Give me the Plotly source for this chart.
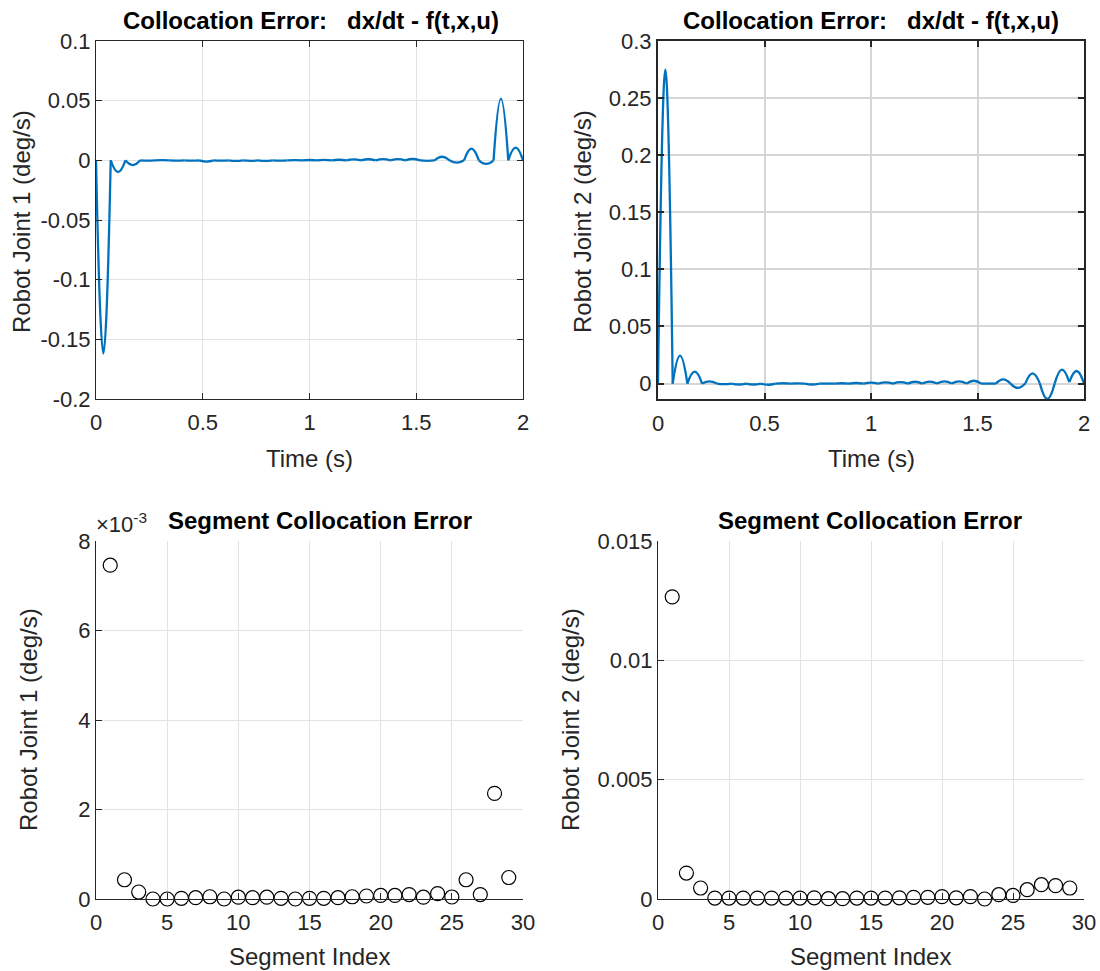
import plotly.graph_objects as go

# ---------------- data ----------------
# segment boundary (knot) times and segment mid-times [s]
knot_t = [0.0, 0.0690, 0.1379, 0.2069, 0.2759, 0.3448, 0.4138, 0.4828, 0.5517, 0.6207,
          0.6897, 0.7586, 0.8276, 0.8966, 0.9655, 1.0345, 1.1034, 1.1724, 1.2414, 1.3103,
          1.3793, 1.4483, 1.5172, 1.5862, 1.6552, 1.7241, 1.7931, 1.8621, 1.9310, 2.0]
mid_t = [0.0345, 0.1034, 0.1724, 0.2414, 0.3103, 0.3793, 0.4483, 0.5172, 0.5862, 0.6552,
         0.7241, 0.7931, 0.8621, 0.9310, 1.0000, 1.0690, 1.1379, 1.2069, 1.2759, 1.3448,
         1.4138, 1.4828, 1.5517, 1.6207, 1.6897, 1.7586, 1.8276, 1.8966, 1.9655]

# collocation error at knots / mid-points (deg/s)
joint1_knot = [0.0] * 30
joint1_mid = [-0.162, -0.0098, -0.004, -0.0003, 0.0002, -0.0002, -0.0003, -0.001, -0.0003, -0.0005,
              -0.0004, -0.0005, -0.0002, 0.0002, 0.0003, 0.0004, 0.0005, 0.0008, 0.0009, 0.0010,
              0.0010, 0.0011, -0.0004, 0.003, -0.002, 0.0098, -0.003, 0.0517, 0.0106]

joint2_knot = [0.0] * 28 + [0.0012, 0.0]
joint2_mid = [0.275, 0.0244, 0.0105, 0.002, -0.0005, -0.0008, -0.0008, -0.001, 0.0003, 0.0002,
              -0.0008, 0.0, 0.0003, 0.0005, 0.0008, 0.001, 0.0012, 0.0016, 0.0018, 0.002,
              0.0019, 0.0025, 0.0, 0.0037, -0.0038, 0.009, -0.0135, 0.0122, 0.011]

# segment collocation error
segment_index = list(range(1, 30))
seg_err_joint1 = [7.46e-3, 0.43e-3, 0.156e-3, 0.0, 0.0, 0.015e-3, 0.03e-3, 0.05e-3, 0.0, 0.04e-3,
                  0.03e-3, 0.04e-3, 0.015e-3, 0.0, 0.015e-3, 0.015e-3, 0.03e-3, 0.05e-3, 0.067e-3, 0.08e-3,
                  0.08e-3, 0.1e-3, 0.04e-3, 0.12e-3, 0.045e-3, 0.43e-3, 0.1e-3, 2.36e-3, 0.48e-3]
seg_err_joint2 = [12.66e-3, 1.087e-3, 0.46e-3, 0.04e-3, 0.04e-3, 0.04e-3, 0.04e-3, 0.04e-3, 0.04e-3, 0.04e-3,
                  0.05e-3, 0.014e-3, 0.014e-3, 0.04e-3, 0.04e-3, 0.04e-3, 0.05e-3, 0.07e-3, 0.07e-3, 0.1e-3,
                  0.05e-3, 0.1e-3, 0.0, 0.18e-3, 0.15e-3, 0.39e-3, 0.6e-3, 0.56e-3, 0.46e-3]

# tick labels
time_ticks = [0, 0.5, 1, 1.5, 2]
time_ticktext = ["0", "0.5", "1", "1.5", "2"]
j1_ticks = [0.1, 0.05, 0, -0.05, -0.1, -0.15, -0.2]
j1_ticktext = ["0.1", "0.05", "0", "-0.05", "-0.1", "-0.15", "-0.2"]
j2_ticks = [0, 0.05, 0.1, 0.15, 0.2, 0.25, 0.3]
j2_ticktext = ["0", "0.05", "0.1", "0.15", "0.2", "0.25", "0.3"]
seg_ticks = [0, 5, 10, 15, 20, 25, 30]
seg_ticktext = ["0", "5", "10", "15", "20", "25", "30"]
s1_ticks = [0, 0.002, 0.004, 0.006, 0.008]
s1_ticktext = ["0", "2", "4", "6", "8"]
s2_ticks = [0, 0.005, 0.01, 0.015]
s2_ticktext = ["0", "0.005", "0.01", "0.015"]

# ---------------- figure ----------------
W, H = 1100, 971
FONT = "Liberation Sans, Arial, Helvetica, sans-serif"
TXT = "#262626"
BLUE = "#0072BD"


def px_x(p):
    return p / W


def px_y(p):
    return 1 - p / H


fig = go.Figure()

# per-segment curves (corners at segment boundaries)
for joint_knot, joint_mid, xa, ya in [(joint1_knot, joint1_mid, "x", "y"),
                                      (joint2_knot, joint2_mid, "x2", "y2")]:
    for k in range(len(mid_t)):
        fig.add_trace(go.Scatter(
            x=[knot_t[k], mid_t[k], knot_t[k + 1]],
            y=[joint_knot[k], joint_mid[k], joint_knot[k + 1]],
            mode="lines", line=dict(color=BLUE, width=2.3, shape="spline", smoothing=1.3),
            xaxis=xa, yaxis=ya, showlegend=False, hoverinfo="x+y"))

for vals, xa, ya in [(seg_err_joint1, "x3", "y3"), (seg_err_joint2, "x4", "y4")]:
    fig.add_trace(go.Scatter(
        x=segment_index, y=vals, mode="markers",
        marker=dict(symbol="circle-open", size=14, color="black", line=dict(width=1.2, color="black")),
        xaxis=xa, yaxis=ya, showlegend=False, cliponaxis=False))

dom_x_left = [px_x(96), px_x(523)]
dom_x_right = [px_x(658), px_x(1084)]
dom_y_top = [px_y(399), px_y(41)]
dom_y_bot = [px_y(899), px_y(541)]

tickfont = dict(family=FONT, size=22, color=TXT)


def ax(domain, anchor, rng, tv, tt, mirror, lw=1, gridcolor="#e3e3e3", gw=1, standoff=4):
    return dict(domain=domain, anchor=anchor, range=rng, tickvals=tv, ticktext=tt,
                showline=True, linecolor=TXT, linewidth=lw, mirror=mirror,
                ticks="inside", ticklen=6, tickcolor=TXT, tickwidth=lw,
                showgrid=True, gridcolor=gridcolor, gridwidth=gw, zeroline=False,
                tickfont=tickfont, ticklabelstandoff=standoff, automargin=False)


fig.update_layout(
    width=W, height=H, margin=dict(l=0, r=0, t=0, b=0),
    paper_bgcolor="white", plot_bgcolor="white",
    font=dict(family=FONT, color=TXT),
    xaxis=ax(dom_x_left, "y", [0, 2], time_ticks, time_ticktext, "ticks"),
    yaxis=ax(dom_y_top, "x", [-0.2, 0.1], j1_ticks, j1_ticktext, "ticks", standoff=0),
    xaxis2=ax(dom_x_right, "y2", [0, 2], time_ticks, time_ticktext, "ticks", lw=2, gridcolor="#d6d6d6", gw=2),
    yaxis2=ax(dom_y_top, "x2", [-0.0135, 0.3], j2_ticks, j2_ticktext, "ticks", lw=2, gridcolor="#d6d6d6", gw=2,
              standoff=0),
    xaxis3=ax(dom_x_left, "y3", [0, 30], seg_ticks, seg_ticktext, False),
    yaxis3=ax(dom_y_bot, "x3", [0, 0.008], s1_ticks, s1_ticktext, False, standoff=0),
    xaxis4=ax(dom_x_right, "y4", [0, 30], seg_ticks, seg_ticktext, False),
    yaxis4=ax(dom_y_bot, "x4", [0, 0.015], s2_ticks, s2_ticktext, False, standoff=0),
)

title_font = dict(family=FONT, size=24, color="black")
label_font = dict(family=FONT, size=24, color=TXT)
ann = []
TITLE1 = "<b>Collocation Error:\u00a0\u00a0\u00a0dx/dt - f(t,x,u)</b>"
TITLE2 = "<b>Segment Collocation Error</b>"
ann.append(dict(text=TITLE1, x=px_x(311), y=px_y(20), font=title_font))
ann.append(dict(text=TITLE1, x=px_x(871), y=px_y(20), font=title_font))
ann.append(dict(text=TITLE2, x=px_x(319.5), y=px_y(520), font=title_font))
ann.append(dict(text=TITLE2, x=px_x(870), y=px_y(520), font=title_font))
ann.append(dict(text="Time (s)", x=px_x(309.5), y=px_y(458), font=label_font))
ann.append(dict(text="Time (s)", x=px_x(871), y=px_y(458), font=label_font))
ann.append(dict(text="Segment Index", x=px_x(309.5), y=px_y(956), font=label_font))
ann.append(dict(text="Segment Index", x=px_x(870.5), y=px_y(956), font=label_font))
ann.append(dict(text="Robot Joint 1 (deg/s)", x=px_x(21), y=px_y(222), textangle=-90, font=label_font))
ann.append(dict(text="Robot Joint 2 (deg/s)", x=px_x(582), y=px_y(222), textangle=-90, font=label_font))
ann.append(dict(text="Robot Joint 1 (deg/s)", x=px_x(28), y=px_y(720), textangle=-90, font=label_font))
ann.append(dict(text="Robot Joint 2 (deg/s)", x=px_x(570), y=px_y(720), textangle=-90, font=label_font))
for a in ann:
    a.update(xref="paper", yref="paper", showarrow=False, xanchor="center", yanchor="middle")
fig.update_layout(annotations=ann)
fig.add_annotation(text="\u00d710<sup>-3</sup>", xref="paper", yref="paper",
                   x=px_x(94), y=px_y(539), xanchor="left", yanchor="bottom",
                   showarrow=False, font=dict(family=FONT, size=22, color=TXT))

fig.write_html("out.html")
